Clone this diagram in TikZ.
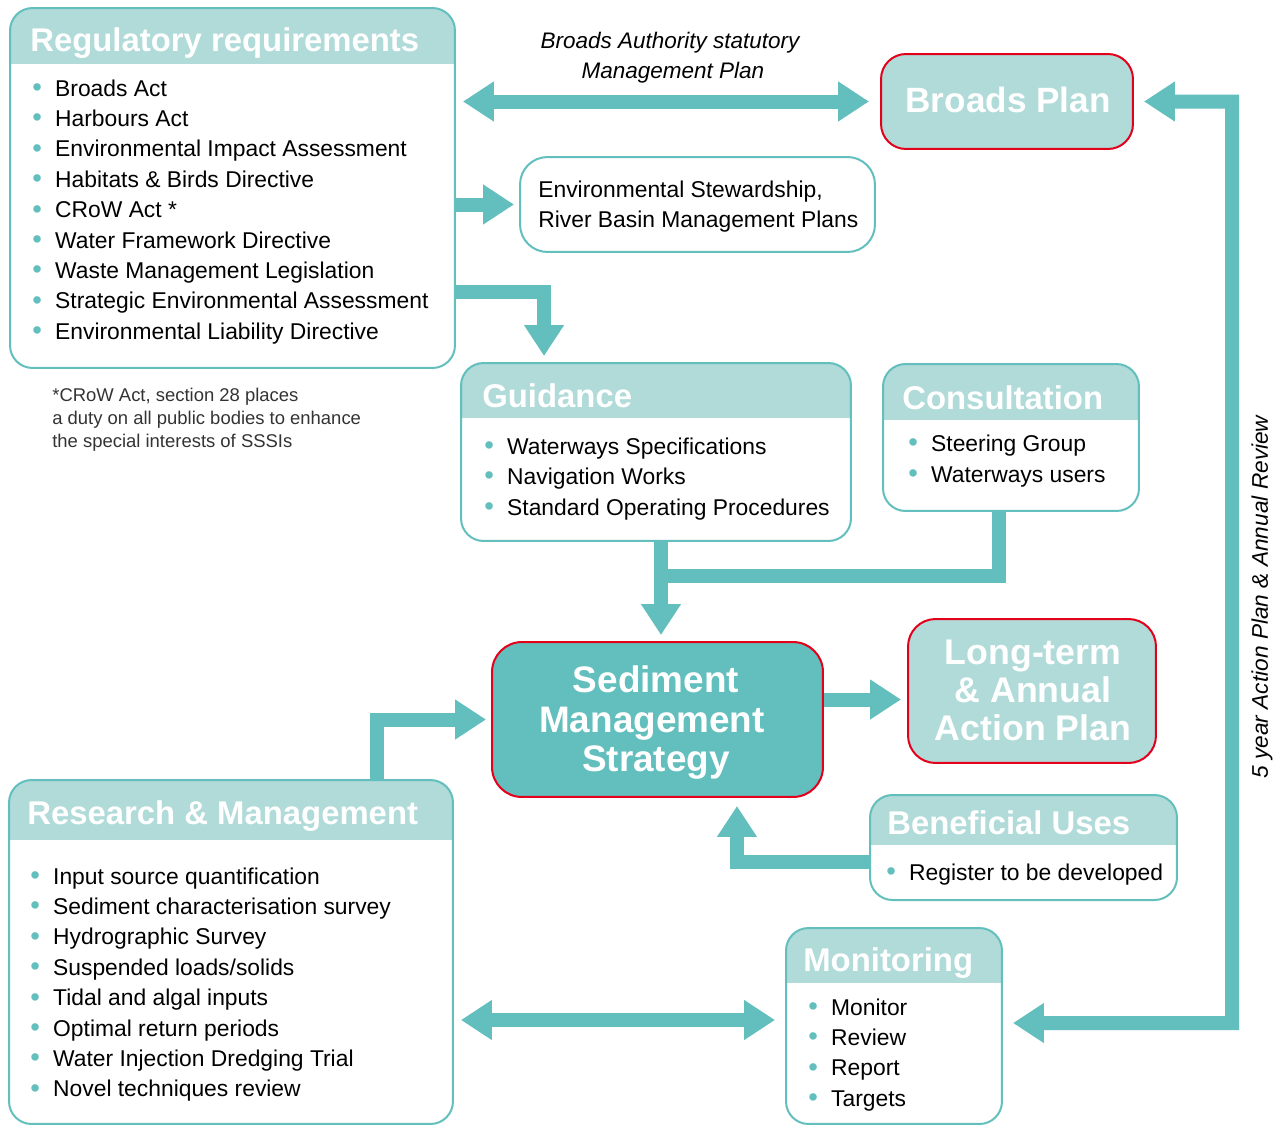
\documentclass[tikz,border=0pt]{standalone}
\usepackage{fontspec}
\setmainfont{Liberation Sans}
\usetikzlibrary{arrows.meta}
\definecolor{tealdk}{HTML}{62BFBD}
\definecolor{teallt}{HTML}{B0DBD9}
\definecolor{redb}{HTML}{E2001A}
\definecolor{fnote}{HTML}{333333}
\newcommand\bul{\makebox[1em][l]{\textcolor{tealdk}{\raisebox{-0.02em}{\scalebox{1.2}{•}}}}}
\begin{document}
\begin{tikzpicture}[x=0.02cm,y=-0.02cm,
  box/.style={draw=tealdk, line width=0.04cm, rounded corners=0.45cm, fill=white, inner sep=0, anchor=center},
  hbox/.style={box, path picture={\fill[teallt, sharp corners] (path picture bounding box.north west) rectangle ([yshift=-#1]path picture bounding box.north east);}},
  redbox/.style={box, draw=redb},
  ttl/.style={font=\fontsize{18.7}{22}\selectfont\bfseries, text=white, anchor=base west, inner sep=0},
  big/.style={font=\fontsize{21}{24}\selectfont\bfseries, text=white, anchor=base, inner sep=0},
  itm/.style={font=\fontsize{13}{15}\selectfont, anchor=base west, inner sep=0},
  lbl/.style={font=\fontsize{12.8}{15}\selectfont\itshape, inner sep=0},
  fnt/.style={font=\fontsize{10.5}{13}\selectfont, text=fnote, anchor=base west, inner sep=0},
  fat/.style={draw=tealdk, line width=0.28cm, line join=miter, -{Triangle[length=0.62cm,width=0.76cm]}},
  fatdbl/.style={draw=tealdk, line width=0.28cm, line join=miter, {Triangle[length=0.62cm,width=0.76cm]}-{Triangle[length=0.62cm,width=0.76cm]}},
  fatline/.style={draw=tealdk, line width=0.28cm},
]
\useasboundingbox (0,0) rectangle (1281,1126);

% boxes
\node[hbox=1.12cm, minimum width=8.9cm, minimum height=7.2cm] (reg) at (232.5,188) {};
\node[redbox, fill=teallt, minimum width=5.04cm, minimum height=1.9cm, rounded corners=0.5cm] (bp) at (1007,101.5) {};
\node[box, minimum width=7.1cm, minimum height=1.9cm, rounded corners=0.55cm] (env) at (697.5,204.5) {};
\node[hbox=1.1cm, minimum width=7.8cm, minimum height=3.56cm] (gui) at (656,452) {};
\node[hbox=1.12cm, minimum width=5.12cm, minimum height=2.94cm] (con) at (1011,437.5) {};
\node[redbox, fill=tealdk, minimum width=6.62cm, minimum height=3.1cm, rounded corners=0.6cm] (sms) at (657.5,719.5) {};
\node[redbox, fill=teallt, minimum width=4.96cm, minimum height=2.88cm, rounded corners=0.55cm] (lt) at (1032,691) {};
\node[hbox=1.0cm, minimum width=6.14cm, minimum height=2.1cm] (ben) at (1023.5,847.5) {};
\node[hbox=1.2cm, minimum width=8.88cm, minimum height=6.88cm] (res) at (231,952) {};
\node[hbox=1.1cm, minimum width=4.32cm, minimum height=3.92cm] (mon) at (894,1026) {};

% titles
\node[ttl] (regT) at (30,51) {Regulatory requirements};
\node[ttl] (guiT) at (482,407) {Guidance};
\node[ttl] (conT) at (902,409) {Consultation};
\node[ttl] (resT) at (27,824) {Research \& Management};
\node[ttl] (benT) at (887,834) {Beneficial Uses};
\node[ttl] (monT) at (803,971) {Monitoring};

\node[big, font=\fontsize{20}{24}\selectfont\bfseries] (bpT) at (1008,112) {Broads Plan};
\node[big] (sms1) at (656,692) {Sediment};
\node[big] (sms2) at (652,732) {Management};
\node[big] (sms3) at (656,771) {Strategy};
\node[big, font=\fontsize{20.3}{24}\selectfont\bfseries] (lt1) at (1033,664) {Long-term};
\node[big, font=\fontsize{20.3}{24}\selectfont\bfseries] (lt2) at (1033,702) {\& Annual};
\node[big, font=\fontsize{20.3}{24}\selectfont\bfseries] (lt3) at (1033,740) {Action Plan};

% lists
\foreach \t [count=\i from 0] in {Broads Act, Harbours Act, Environmental Impact Assessment, Habitats \& Birds Directive, CRoW Act *, Water Framework Directive, Waste Management Legislation, Strategic Environmental Assessment, Environmental Liability Directive}
  \node[itm] (reg-\i) at (32,{96+30.4*\i}) {\bul\t};
\foreach \t [count=\i from 0] in {Waterways Specifications, Navigation Works, Standard Operating Procedures}
  \node[itm] (gui-\i) at (484,{454+30.5*\i}) {\bul\t};
\foreach \t [count=\i from 0] in {Steering Group, Waterways users}
  \node[itm] (con-\i) at (908,{451+31*\i}) {\bul\t};
\foreach \t [count=\i from 0] in {Input source quantification, Sediment characterisation survey, Hydrographic Survey, Suspended loads/solids, Tidal and algal inputs, Optimal return periods, Water Injection Dredging Trial, Novel techniques review}
  \node[itm] (res-\i) at (30,{884+30.4*\i}) {\bul\t};
\node[itm] (ben-0) at (886,880) {\bul Register to be developed};
\foreach \t [count=\i from 0] in {Monitor, Review, Report, Targets}
  \node[itm] (mon-\i) at (808,{1015+30.4*\i}) {\bul\t};

\node[itm] (env1) at (538,197) {Environmental Stewardship,};
\node[itm] (env2) at (538,227) {River Basin Management Plans};

% labels
\node[lbl, anchor=base] (bal1) at (670,48) {Broads Authority statutory};
\node[lbl, anchor=base] (bal2) at (673,78) {Management Plan};
\node[lbl, font=\fontsize{12.9}{15}\selectfont\itshape, rotate=90] (loopT) at (1262,597) {5 year Action Plan \& Annual Review};
\node[fnt] (fn1) at (52,401) {*CRoW Act, section 28 places};
\node[fnt] (fn2) at (52,424) {a duty on all public bodies to enhance};
\node[fnt] (fn3) at (52,447) {the special interests of SSSIs};

% connectors
\draw[fatdbl] ([xshift=0.14cm]reg.east |- bp.west) -- ([xshift=-0.22cm]bp.west);
\draw[fat] (reg.east |- env.west) -- ([xshift=-0.1cm]env.west);
\draw[fat] ([yshift=-2.08cm]reg.east) -| ([xshift=1.68cm,yshift=0.12cm]gui.north west);
\draw[fat] ([xshift=0.1cm]gui.south) -- ([xshift=0.1cm,yshift=0.12cm]gui.south |- sms.north);
\coordinate (cj) at (661,576);
\draw[fatline] ([xshift=-0.24cm]con.south) |- (cj);
\draw[fat] ([yshift=0.4cm]sms.east) -- ([yshift=0.4cm,xshift=-0.12cm]sms.east -| lt.west);
\draw[fat] ([xshift=2.92cm]res.north) |- ([xshift=-0.1cm]sms.west);
\draw[fat] ([yshift=-0.29cm]ben.west) -| ([xshift=1.59cm,yshift=-0.16cm]sms.south);
\draw[fatdbl] ([xshift=0.14cm,yshift=0.12cm]res.east |- mon.west) -- ([xshift=-0.2cm,yshift=0.12cm]mon.west);
\coordinate (loopbot) at (1232,1023);
\coordinate (looptop) at (1232,101.5);
\draw[fatdbl] ([xshift=0.2cm,yshift=0.06cm]mon.east) -- (loopbot) -- (looptop) -- ([xshift=0.2cm]bp.east);
\end{tikzpicture}
\end{document}
